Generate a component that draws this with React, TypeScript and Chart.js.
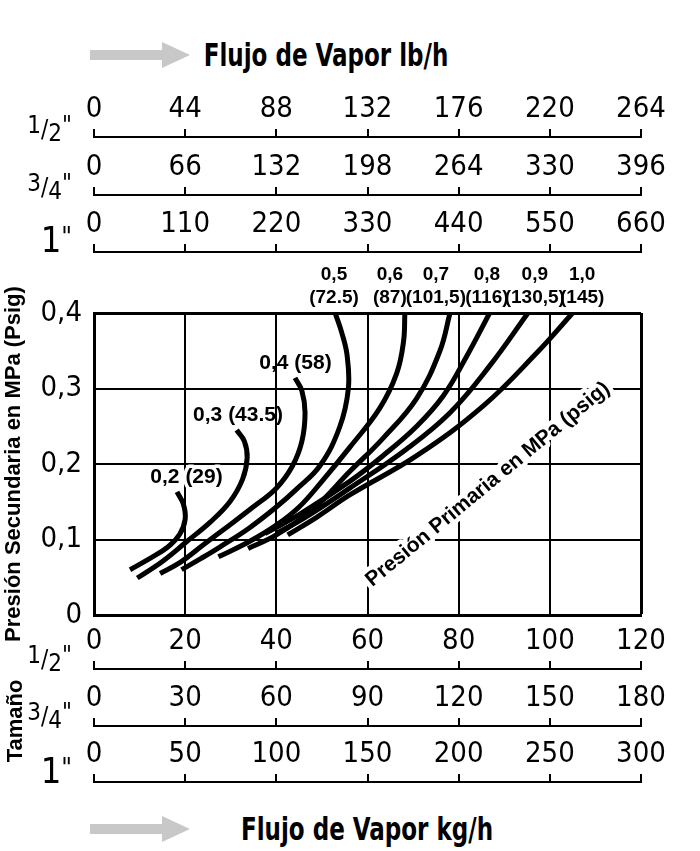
import React, { useEffect, useRef } from "react";
import { Chart, registerables } from "chart.js";

Chart.register(...registerables);

// ---------- data ----------
const Y_TICKS = [0, 0.1, 0.2, 0.3, 0.4];
const Y_LABELS = ["0", "0,1", "0,2", "0,3", "0,4"];

const KG_HALF = [0, 20, 40, 60, 80, 100, 120];
const KG_THREE_QUARTER = [0, 30, 60, 90, 120, 150, 180];
const KG_ONE = [0, 50, 100, 150, 200, 250, 300];
const LB_HALF = [0, 44, 88, 132, 176, 220, 264];
const LB_THREE_QUARTER = [0, 66, 132, 198, 264, 330, 396];
const LB_ONE = [0, 110, 220, 330, 440, 550, 660];

// curves: [flow kg/h (1/2"), secondary pressure MPa]
const CURVE_02 = [[7.9, 0.06], [12, 0.074], [16.2, 0.09], [18.8, 0.107], [20, 0.127], [19.6, 0.147], [18.2, 0.163]];
const CURVE_03 = [[9.5, 0.049], [15, 0.071], [20.3, 0.097], [25.5, 0.123], [29.8, 0.15], [32.6, 0.18], [33.6, 0.208], [33, 0.23], [31.3, 0.245]];
const CURVE_04 = [[14.5, 0.055], [19, 0.07], [24, 0.093], [29.5, 0.118], [34.9, 0.143], [40, 0.168], [43.5, 0.197], [45.6, 0.23], [46.3, 0.268], [45.6, 0.297], [44.1, 0.314]];
const CURVE_05 = [[19.2, 0.06], [23.5, 0.075], [27.6, 0.09], [34, 0.115], [40, 0.143], [44.5, 0.167], [49.6, 0.198], [53.9, 0.249], [55.8, 0.3], [55.5, 0.345], [54.3, 0.375], [52.9, 0.4]];
const CURVE_06 = [[27.3, 0.077], [34, 0.097], [40, 0.119], [45, 0.143], [50, 0.177], [56.1, 0.222], [62.7, 0.274], [66.4, 0.32], [67.9, 0.362], [68.2, 0.4]];
const CURVE_07 = [[33.8, 0.088], [40, 0.106], [48, 0.14], [56.1, 0.19], [63.4, 0.234], [70.8, 0.287], [75.9, 0.35], [78.1, 0.4]];
const CURVE_08 = [[37.5, 0.108], [45, 0.133], [56.1, 0.177], [63.4, 0.211], [70.8, 0.25], [76.6, 0.29], [81.7, 0.342], [86.8, 0.4]];
const CURVE_09 = [[40, 0.108], [46, 0.128], [56.1, 0.168], [68.6, 0.22], [78.1, 0.268], [86.8, 0.33], [95.2, 0.4]];
const CURVE_10 = [[42.5, 0.106], [49, 0.13], [56.1, 0.159], [70.8, 0.211], [85.4, 0.277], [97.1, 0.347], [105, 0.4]];
const CURVES = [CURVE_02, CURVE_03, CURVE_04, CURVE_05, CURVE_06, CURVE_07, CURVE_08, CURVE_09, CURVE_10];
const CURVE_NAMES = ["0,2", "0,3", "0,4", "0,5", "0,6", "0,7", "0,8", "0,9", "1,0"];

// labels above the plot (x in kg/h 1/2")
const TOP_LABEL_X = [52.65, 64.9, 75.0, 86.2, 96.7, 107.1];
const TOP_LABEL_MPA = ["0,5", "0,6", "0,7", "0,8", "0,9", "1,0"];
const TOP_LABEL_PSIG = ["(72.5)", "(87)", "(101,5)", "(116)", "(130,5)", "(145)"];

// labels inside the plot
const INLINE_TEXT = ["0,2 (29)", "0,3 (43.5)", "0,4 (58)"];
const INLINE_X = [20.3, 31.6, 44.2];
const INLINE_Y = [0.183, 0.265, 0.333];
const INLINE_HALO = [true, false, false];

const DIAG_TEXT = "Presión Primaria en MPa (psig)";
const DIAG_X = 86.4;
const DIAG_Y = 0.173;
const DIAG_ANGLE = -39.5;

// ---------- styles ----------
const NARROW = "'Liberation Sans Narrow', 'DejaVu Sans Condensed', 'Roboto Condensed', 'Liberation Sans', sans-serif";
const BOLD = "'Liberation Sans', Arial, sans-serif";

const PLOT_LEFT = 94;
const PLOT_RIGHT_PAD = 59;

function stripAxis(ticks: number[], weight: number, height: number) {
  return {
    type: "linear",
    axis: "x",
    position: "top",
    min: ticks[0],
    max: ticks[ticks.length - 1],
    weight,
    afterBuildTicks: (s: any) => {
      s.ticks = ticks.map((v) => ({ value: v }));
    },
    afterFit: (s: any) => {
      s.height = height;
    },
    ticks: {
      font: { family: NARROW, size: 29 },
      color: "#000",
      padding: 2,
      maxRotation: 0,
      minRotation: 0,
      autoSkip: false,
      callback: (v: any) => String(v),
    },
    grid: { display: true, drawOnChartArea: false, drawTicks: true, tickLength: 8, color: "#000", lineWidth: 2 },
    border: { display: true, color: "#000", width: 2 },
  };
}

function StripChart(props: { top: number; height: number; padTop: number; padBottom: number; axes: any[] }) {
  const ref = useRef<HTMLCanvasElement | null>(null);
  useEffect(() => {
    if (!ref.current) return;
    const scales: any = { y: { display: false, min: 0, max: 1 } };
    const ids = ["x", "x2", "x3"];
    props.axes.forEach((a, i) => (scales[ids[i]] = a));
    const chart = new Chart(ref.current, {
      type: "scatter",
      data: { datasets: [] },
      options: {
        animation: false,
        responsive: false,
        maintainAspectRatio: false,
        events: [],
        layout: { padding: { left: PLOT_LEFT, right: PLOT_RIGHT_PAD, top: props.padTop, bottom: props.padBottom } },
        plugins: { legend: { display: false }, tooltip: { enabled: false } },
        scales,
      } as any,
    });
    return () => chart.destroy();
  }, []);
  return (
    <canvas
      ref={ref}
      width={700}
      height={props.height}
      style={{ position: "absolute", left: 0, top: props.top, width: 700, height: props.height }}
    />
  );
}

const labelPlugin = {
  id: "curveLabels",
  afterDatasetsDraw(chart: any) {
    const { ctx, chartArea, scales } = chart;
    const xs = scales.x;
    const ys = scales.y;
    ctx.save();
    ctx.fillStyle = "#000";
    ctx.textAlign = "center";
    ctx.textBaseline = "middle";
    ctx.font = `bold 19px ${BOLD}`;
    TOP_LABEL_X.forEach((v, i) => {
      const px = xs.getPixelForValue(v);
      ctx.fillText(TOP_LABEL_MPA[i], px, chartArea.top - 38);
      ctx.fillText(TOP_LABEL_PSIG[i], px, chartArea.top - 15);
    });
    ctx.font = `bold 21px ${BOLD}`;
    INLINE_TEXT.forEach((t, i) => {
      const px = xs.getPixelForValue(INLINE_X[i]);
      const py = ys.getPixelForValue(INLINE_Y[i]);
      if (INLINE_HALO[i]) {
        ctx.strokeStyle = "#fff";
        ctx.lineWidth = 7;
        ctx.lineJoin = "round";
        ctx.strokeText(t, px, py);
      }
      ctx.fillText(t, px, py);
    });
    const dx = xs.getPixelForValue(DIAG_X);
    const dy = ys.getPixelForValue(DIAG_Y);
    ctx.translate(dx, dy);
    ctx.rotate((DIAG_ANGLE * Math.PI) / 180);
    ctx.font = `bold 21px ${BOLD}`;
    ctx.strokeStyle = "#fff";
    ctx.lineWidth = 9;
    ctx.lineJoin = "round";
    ctx.strokeText(DIAG_TEXT, 0, 0);
    ctx.fillText(DIAG_TEXT, 0, 0);
    ctx.restore();
  },
};

function MainChart() {
  const ref = useRef<HTMLCanvasElement | null>(null);
  useEffect(() => {
    if (!ref.current) return;
    const chart = new Chart(ref.current, {
      type: "scatter",
      data: {
        datasets: CURVES.map((c, i) => ({
          label: CURVE_NAMES[i],
          data: c.map(([x, y]) => ({ x, y })),
          showLine: true,
          borderColor: "#000",
          borderWidth: 5,
          pointRadius: 0,
          tension: 0.4,
          fill: false,
          borderCapStyle: "butt",
        })),
      },
      options: {
        animation: false,
        responsive: false,
        maintainAspectRatio: false,
        events: [],
        layout: { padding: { left: 0, right: PLOT_RIGHT_PAD, top: 58, bottom: 30 } },
        plugins: { legend: { display: false }, tooltip: { enabled: false } },
        scales: {
          x: {
            type: "linear",
            min: 0,
            max: 120,
            afterBuildTicks: (s: any) => {
              s.ticks = KG_HALF.map((v) => ({ value: v }));
            },
            afterFit: (s: any) => {
              s.height = 0;
            },
            ticks: { display: false },
            grid: {
              color: "#000",
              lineWidth: (c: any) => (c.tick && c.tick.value === 120 ? 3 : 2),
              drawTicks: false,
            },
            border: { display: true, color: "#000", width: 3 },
          },
          y: {
            type: "linear",
            min: 0,
            max: 0.4,
            afterBuildTicks: (s: any) => {
              s.ticks = Y_TICKS.map((v) => ({ value: v }));
            },
            afterFit: (s: any) => {
              s.width = PLOT_LEFT;
            },
            ticks: {
              font: { family: NARROW, size: 29 },
              color: "#000",
              padding: 12,
              callback: (_v: any, i: number) => Y_LABELS[i],
            },
            grid: {
              color: "#000",
              lineWidth: (c: any) => (c.tick && c.tick.value === 0.4 ? 3 : 2),
              drawTicks: false,
            },
            border: { display: true, color: "#000", width: 3 },
            title: {
              display: true,
              text: "Presión Secundaria en MPa (Psig)",
              font: { family: BOLD, size: 22, weight: "bold" },
              color: "#000",
              padding: { top: 1, bottom: 0 },
            },
          },
        },
      } as any,
      plugins: [labelPlugin],
    });
    return () => chart.destroy();
  }, []);
  return (
    <canvas ref={ref} width={700} height={390} style={{ position: "absolute", left: 0, top: 255, width: 700, height: 390 }} />
  );
}

function Arrow(props: { top: number }) {
  return (
    <svg width={110} height={30} style={{ position: "absolute", left: 88, top: props.top }}>
      <polygon points="2,10 74,10 74,2 102,15 74,28 74,20 2,20" fill="#c8c8c8" />
    </svg>
  );
}

function Frac(props: { num: string; den: string; cy: number }) {
  return (
    <div
      style={{
        position: "absolute",
        left: 0,
        width: 72,
        top: props.cy - 15,
        height: 30,
        lineHeight: "30px",
        textAlign: "right",
        fontFamily: NARROW,
        fontSize: 24,
        color: "#000",
      }}
    >
      <span style={{ position: "relative", top: -4 }}>{props.num}</span>
      <span>/</span>
      <span style={{ position: "relative", top: 4 }}>{props.den}</span>
      <span style={{ position: "relative", top: -4 }}>"</span>
    </div>
  );
}

function One(props: { cy: number }) {
  return (
    <div
      style={{
        position: "absolute",
        left: 0,
        width: 72,
        top: props.cy - 20,
        height: 40,
        lineHeight: "40px",
        textAlign: "right",
        fontFamily: NARROW,
        fontSize: 36,
        color: "#000",
      }}
    >
      1<span style={{ fontSize: 26, position: "relative", top: -6 }}>"</span>
    </div>
  );
}

function Title(props: { text: string; cx: number; cy: number }) {
  return (
    <div
      style={{
        position: "absolute",
        left: props.cx,
        top: props.cy,
        transform: "translate(-50%, -50%) scaleX(0.8)",
        whiteSpace: "nowrap",
        fontFamily: NARROW,
        fontWeight: "bold",
        fontSize: 32,
        color: "#000",
        lineHeight: "36px",
      }}
    >
      {props.text}
    </div>
  );
}

export default function App() {
  return (
    <div style={{ position: "fixed", left: 0, top: 0, width: 700, height: 851, background: "#fff", overflow: "hidden" }}>
      <Arrow top={40} />
      <Title text="Flujo de Vapor lb/h" cx={326} cy={55} />
      <StripChart
        top={0}
        height={262}
        padTop={78}
        padBottom={5}
        axes={[stripAxis(LB_HALF, 3, 59), stripAxis(LB_THREE_QUARTER, 2, 58), stripAxis(LB_ONE, 1, 57)]}
      />
      <Frac num="1" den="2" cy={129} />
      <Frac num="3" den="4" cy={187} />
      <One cy={240} />
      <MainChart />
      <StripChart
        top={612}
        height={185}
        padTop={3}
        padBottom={10}
        axes={[stripAxis(KG_HALF, 3, 54), stripAxis(KG_THREE_QUARTER, 2, 57), stripAxis(KG_ONE, 1, 56)]}
      />
      <Frac num="1" den="2" cy={659} />
      <Frac num="3" den="4" cy={716} />
      <One cy={771} />
      <div
        style={{
          position: "absolute",
          left: 15,
          top: 721,
          transform: "translate(-50%, -50%) rotate(-90deg)",
          fontFamily: BOLD,
          fontWeight: "bold",
          fontSize: 22,
          color: "#000",
          whiteSpace: "nowrap",
        }}
      >
        Tamaño
      </div>
      <Arrow top={814} />
      <Title text="Flujo de Vapor kg/h" cx={367} cy={829} />
    </div>
  );
}
